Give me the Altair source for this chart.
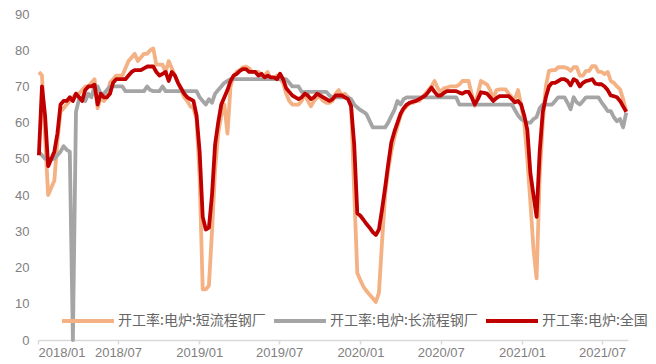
import altair as alt
import pandas as pd

dates = pd.date_range("2018-01-03", periods=191, freq="7D").strftime("%Y-%m-%d").tolist()

names = ["开工率:电炉:短流程钢厂", "开工率:电炉:长流程钢厂", "开工率:电炉:全国"]
colors = ["#F4B183", "#A5A5A5", "#C00000"]

short_process = [
    74, 73, 56, 40, 42, 44, 55, 63, 64, 65, 66, 67, 68, 68, 69, 70, 70, 71, 72, 64,
    67, 66, 67, 71, 72, 73, 73, 73, 75, 77, 78, 79, 77, 78, 79, 79, 80, 80.5, 76, 76,
    76, 74, 77, 75, 73, 71, 69, 67, 66, 64.5, 64, 61, 45, 14, 14, 15, 30, 47, 57, 62,
    65, 57, 70, 73, 74, 74.5, 75.3, 75.5, 75, 74, 74, 74, 73, 73, 74, 72, 72, 73, 72, 71,
    68, 66, 65, 65, 65, 66, 68, 66, 64.5, 66, 67, 67, 66, 65.5, 65.5, 66, 68, 69, 67.5, 68,
    67, 64.6, 41, 18.5, 16.5, 14.7, 13.5, 12.5, 11.5, 10.5, 13, 27, 40, 47, 52, 56, 59, 62, 63.7, 64.5,
    65.5, 65.5, 66, 66, 67, 68, 69, 70, 71.5, 69.5, 68.4, 69.5, 69.7, 70, 70, 70, 70.5, 71.5, 71.5, 71.5,
    68, 64.6, 68, 71.5, 71, 70.5, 69, 66.5, 69, 69.2, 69.2, 69.2, 68, 67, 66.5, 69, 65, 60, 50, 38,
    25, 17, 45, 60, 70, 74.3, 74.5, 74.5, 75.3, 75.3, 75.3, 75, 74.3, 75.3, 75.3, 73, 73, 74.3, 74.3, 75.6,
    75.6, 74, 74, 73.4, 74, 71.5, 71, 70, 69.2, 66.5, 63,
]

long_process = [
    52, 51, 50, 50, 50, 50, 51, 52, 53.5, 52.5, 52, 0, 63, 66.5, 67, 66, 68, 67, 70, 70,
    68, 68, 69, 70, 70, 70, 70, 70, 68.7, 68.7, 68.7, 68.7, 68.7, 68.7, 68.7, 70, 69, 68.7, 68.7, 68.7,
    70, 68.7, 68.7, 68.7, 68.7, 68.7, 68.7, 68.7, 68.7, 68.7, 68.7, 68.7, 67, 66, 65, 66.5, 65.5, 68, 69, 70,
    71, 71.5, 72, 72, 72, 72, 72, 72, 72, 72, 72, 72, 72, 72, 72, 72, 72, 72, 72, 72,
    72, 71, 70, 70, 70, 68.5, 68.5, 68.5, 68.5, 68.5, 68.5, 68.5, 68.5, 68.5, 67.5, 67, 67, 67, 67, 67,
    67, 66.5, 65, 64.2, 63.5, 63, 62.3, 60.5, 58.7, 58.7, 58.7, 58.7, 58.7, 60, 61.8, 63.5, 66, 65, 66.5, 67,
    67, 67, 67, 67, 67, 67, 67, 67, 67, 67, 67, 67, 67, 67, 67, 67, 65, 65, 65, 65,
    65, 65, 65, 65, 65, 65, 65, 65, 65, 65, 65, 65, 65, 65, 63.5, 62, 61, 60.5, 60, 60,
    61, 61.5, 64, 65, 65, 65, 65, 66, 67, 67, 67, 65.5, 63.7, 67, 65.6, 65, 66, 67, 67, 67,
    67, 67, 65.6, 64.5, 63.2, 63.2, 61.5, 60.4, 61, 58.7, 62.8,
]

national = [
    51, 70, 62, 48, 50, 52, 57, 65, 66, 66, 67, 66, 68, 67, 66, 69, 70, 70, 70.5, 65,
    68, 67, 67, 68, 71, 72, 72, 72, 72, 73, 74, 74.5, 74.5, 74.5, 75, 75.5, 75.5, 75.5, 74, 73,
    73.5, 74, 71.5, 74, 73, 71, 69.5, 68, 67, 66.5, 66, 62, 52, 34, 30.5, 31, 40, 54, 60, 65,
    67, 69, 71.5, 73, 73.5, 74.3, 74.8, 74.8, 74, 74, 74, 73, 73.5, 72.5, 73, 72.5, 72.5, 72, 73.5, 72,
    69.5, 68.5, 67.5, 67, 66.5, 67, 68, 67.5, 66.5, 67, 68, 67.5, 67, 66.5, 66, 66.5, 67.5, 67.5, 67.5, 67,
    66.5, 64.5, 54, 35, 34.3, 33.2, 32, 31, 29.8, 29, 30.5, 36, 42, 48.5, 54.5, 57.5, 60, 62.5, 64, 65,
    65.5, 65.8, 66, 66.5, 67, 67.5, 68.5, 69.7, 68.5, 67.5, 67.5, 68.2, 68.7, 68.7, 68.7, 68.7, 68.3, 68, 68.5, 68.5,
    67, 65, 66.5, 68.4, 68.2, 68, 67, 66, 66.8, 67.3, 67.3, 67.3, 67.3, 66.5, 65.6, 66, 65, 62, 58, 46,
    40, 34, 52, 63, 67, 70, 71, 71, 71.5, 72, 72, 71.5, 70.3, 72, 71.5, 70, 71, 71.5, 71.7, 72,
    70.8, 70.6, 70.6, 70, 69, 67.5, 67.3, 67, 66, 64.5, 63,
]

rows = []
for name, vals in zip(names, [short_process, long_process, national]):
    for d, v in zip(dates, vals):
        rows.append({"date": d, "series": name, "value": v})
df = pd.DataFrame(rows)

tick_dates = [alt.DateTime(year=y, month=m, date=1, utc=True)
              for y in (2018, 2019, 2020, 2021) for m in (1, 7)]

axis_color = "#808080"

chart = alt.Chart(df).mark_line(strokeWidth=3.8, strokeJoin="round").encode(
    x=alt.X(
        "date:T",
        scale=alt.Scale(
            type="utc",
            domain=[alt.DateTime(year=2018, month=1, date=1, utc=True),
                    alt.DateTime(year=2021, month=8, date=29, utc=True)],
        ),
        axis=alt.Axis(
            values=tick_dates, format="%Y/%m", title=None, grid=False,
            domainColor="#D9D9D9", domainWidth=1.5, tickColor="#D9D9D9", tickWidth=1.5,
            tickSize=4, labelPadding=2, labelFontSize=13, labelColor=axis_color,
            labelFont="Liberation Sans", labelBaseline="top",
        ),
    ),
    y=alt.Y(
        "value:Q",
        scale=alt.Scale(domain=[0, 90]),
        axis=alt.Axis(
            values=list(range(0, 91, 10)), title=None, grid=False, domain=False,
            ticks=False, labelPadding=9, labelFontSize=13, labelColor=axis_color,
            labelFont="Liberation Sans",
        ),
    ),
    color=alt.Color(
        "series:N",
        scale=alt.Scale(domain=names, range=colors),
        legend=alt.Legend(
            title=None, orient="none", legendX=22, legendY=279, direction="horizontal",
            symbolType="stroke", symbolSize=2704, symbolStrokeWidth=4,
            labelFontSize=14, labelFont="Noto Sans CJK SC", labelColor="#666666",
            labelOffset=2, columnPadding=0, padding=0, labelLimit=300,
        ),
    ),
).properties(
    width=590,
    height=326,
    autosize=alt.AutoSizeParams(type="none"),
    padding={"left": 30, "top": 6, "right": 20, "bottom": 24},
).configure_view(stroke=None)

chart.save("out.html", embed_options={"renderer": "svg", "actions": False})
